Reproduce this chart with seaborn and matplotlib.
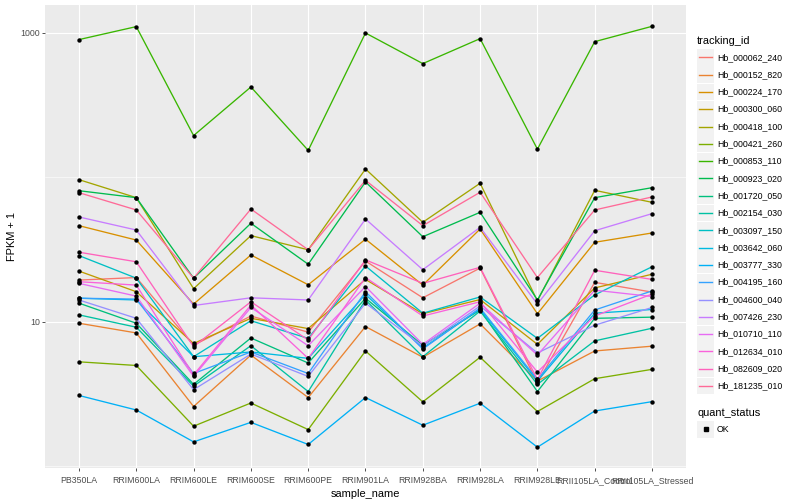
import numpy as np
import pandas as pd
import matplotlib
matplotlib.use("Agg")
import matplotlib.pyplot as plt
from matplotlib.lines import Line2D
from matplotlib.patches import Rectangle
import seaborn as sns

samples = ["PB350LA", "RRIM600LA", "RRIM600LE", "RRIM600SE", "RRIM600PE", "RRIM901LA",
           "RRIM928BA", "RRIM928LA", "RRIM928LE", "RRII105LA_Control", "RRII105LA_Stressed"]

tracking_ids = ["Hb_000062_240", "Hb_000152_820", "Hb_000224_170", "Hb_000300_060",
                "Hb_000418_100", "Hb_000421_260", "Hb_000853_110", "Hb_000923_020",
                "Hb_001720_050", "Hb_002154_030", "Hb_003097_150", "Hb_003642_060",
                "Hb_003777_330", "Hb_004195_160", "Hb_004600_040", "Hb_007426_230",
                "Hb_010710_110", "Hb_012634_010", "Hb_082609_020", "Hb_181235_010"]

# FPKM + 1 per sample
hb_000062_240 = [19.5, 20.3, 6.9, 11.0, 8.5, 26.4, 14.7, 23.6, 3.8, 18.8, 16.1]
hb_000152_820 = [9.8, 8.4, 2.6, 5.9, 3.0, 9.3, 5.7, 9.7, 3.9, 6.3, 6.8]
hb_000224_170 = [46.4, 36.9, 13.3, 29.1, 18.1, 37.4, 18.0, 44.0, 11.4, 35.6, 41.3]
hb_000300_060 = [22.5, 16.2, 7.1, 10.6, 9.0, 19.7, 11.4, 14.3, 7.0, 17.2, 21.4]
hb_000418_100 = [96.6, 72.5, 17.0, 39.6, 31.6, 114.5, 49.0, 91.2, 14.0, 81.5, 67.3]
hb_000421_260 = [5.3, 5.0, 1.9, 2.75, 1.8, 6.3, 2.8, 5.7, 2.4, 4.05, 4.7]
hb_000853_110 = [900, 1107, 195, 423, 154, 1000, 614, 914, 157, 871, 1112]
hb_000923_020 = [81.0, 72.5, 20.1, 48.2, 25.1, 93.1, 38.9, 57.4, 14.2, 72.5, 85.0]
hb_001720_050 = [13.5, 9.8, 3.7, 7.75, 5.2, 14.6, 6.9, 12.1, 3.3, 10.6, 10.8]
hb_002154_030 = [11.2, 9.2, 3.6, 6.85, 3.3, 14.2, 5.75, 11.9, 3.7, 7.4, 9.05]
hb_003097_150 = [28.8, 20.1, 5.75, 10.2, 7.7, 24.4, 11.5, 14.9, 7.7, 15.4, 24.1]
hb_003642_060 = [14.6, 14.2, 5.75, 6.2, 5.6, 15.5, 6.6, 12.3, 3.9, 11.5, 12.2]
hb_003777_330 = [3.1, 2.46, 1.48, 2.02, 1.42, 3.0, 1.93, 2.74, 1.36, 2.42, 2.81]
hb_004195_160 = [14.6, 14.4, 4.4, 6.2, 4.4, 16.2, 6.5, 12.5, 4.0, 12.1, 16.4]
hb_004600_040 = [14.2, 10.6, 3.4, 6.0, 4.2, 13.5, 6.8, 12.9, 6.1, 9.5, 12.6]
hb_007426_230 = [53.3, 43.3, 13.0, 14.7, 14.2, 51.6, 23.0, 45.2, 13.3, 42.8, 56.2]
hb_010710_110 = [18.5, 15.1, 4.2, 12.6, 6.85, 17.6, 7.0, 13.5, 5.9, 16.6, 15.0]
hb_012634_010 = [19.0, 18.0, 4.3, 13.1, 5.6, 20.3, 11.0, 13.8, 4.5, 11.0, 15.6]
hb_082609_020 = [30.4, 26.1, 6.75, 13.8, 7.5, 26.9, 18.5, 23.9, 4.0, 22.8, 19.7]
hb_181235_010 = [78.5, 59.6, 20.1, 60.5, 31.6, 95.6, 46.4, 79.0, 20.3, 59.6, 73.3]

series_values = [hb_000062_240, hb_000152_820, hb_000224_170, hb_000300_060, hb_000418_100,
                 hb_000421_260, hb_000853_110, hb_000923_020, hb_001720_050, hb_002154_030,
                 hb_003097_150, hb_003642_060, hb_003777_330, hb_004195_160, hb_004600_040,
                 hb_007426_230, hb_010710_110, hb_012634_010, hb_082609_020, hb_181235_010]

y_ticks = [10, 1000]
y_tick_labels = ["10", "1000"]


def hcl_hex(h, c=100.0, l=65.0):
    hr = np.deg2rad(h)
    u, v = c * np.cos(hr), c * np.sin(hr)
    Y = ((l + 16) / 116) ** 3 if l > 8 else l / 903.3
    Xn, Yn, Zn = 0.95047, 1.0, 1.08883
    un = 4 * Xn / (Xn + 15 * Yn + 3 * Zn)
    vn = 9 * Yn / (Xn + 15 * Yn + 3 * Zn)
    up = u / (13 * l) + un
    vp = v / (13 * l) + vn
    X = Y * 9 * up / (4 * vp)
    Z = Y * (12 - 3 * up - 20 * vp) / (4 * vp)
    M = np.array([[3.2404542, -1.5371385, -0.4985314],
                  [-0.9692660, 1.8760108, 0.0415560],
                  [0.0556434, -0.2040259, 1.0572252]])
    rgb = M @ np.array([X, Y, Z])
    out = []
    for ch in rgb:
        ch = 12.92 * ch if ch <= 0.0031308 else 1.055 * ch ** (1 / 2.4) - 0.055
        out.append(min(max(ch, 0), 1))
    return matplotlib.colors.to_hex(out)


n = len(tracking_ids)
hues = np.linspace(15, 375, n + 1)[:n]
palette = [hcl_hex(h) for h in hues]

rows = []
for tid, vals in zip(tracking_ids, series_values):
    for s, v in zip(samples, vals):
        rows.append({"tracking_id": tid, "sample_name": s, "FPKM": v, "quant_status": "OK"})
df = pd.DataFrame(rows)

plt.rcParams["font.family"] = ["Liberation Sans", "DejaVu Sans"]
fig = plt.figure(figsize=(8, 5), dpi=100)
ax = fig.add_axes([44.6 / 800, 1 - 468 / 500, (686.4 - 44.6) / 800, (468 - 5) / 500])
ax.set_facecolor("#EBEBEB")

sns.lineplot(data=df, x="sample_name", y="FPKM", hue="tracking_id", hue_order=tracking_ids,
             palette=palette, sort=False, estimator=None, units="tracking_id",
             linewidth=0.95, legend=False, ax=ax, zorder=3)
sns.scatterplot(data=df, x="sample_name", y="FPKM", color="black", s=10, linewidth=0,
                legend=False, ax=ax, zorder=4)

ax.set_yscale("log")
ax.set_ylim(0.976, 1562)
ax.set_xlim(-0.6, len(samples) - 0.4)
ax.set_yticks(y_ticks)
ax.set_yticklabels(y_tick_labels)
ax.yaxis.set_minor_locator(matplotlib.ticker.FixedLocator([1, 100]))
ax.yaxis.set_minor_formatter(matplotlib.ticker.NullFormatter())
ax.set_xticks(range(len(samples)))
ax.set_xticklabels(samples)

ax.grid(True, which="major", color="white", linewidth=0.8)
ax.grid(True, which="minor", axis="y", color="white", linewidth=0.4)
ax.set_axisbelow(True)
for sp in ax.spines.values():
    sp.set_visible(False)
ax.tick_params(which="major", length=2.0, width=0.6, color="#333333",
               labelsize=6.3, labelcolor="#4D4D4D")
ax.tick_params(axis="x", which="major", pad=4.0)
ax.tick_params(axis="y", which="major", pad=1.5)
ax.tick_params(which="minor", length=0)
ax.set_xlabel("sample_name", fontsize=7.9, color="black", labelpad=2.5)
ax.set_ylabel("FPKM + 1", fontsize=7.9, color="black", labelpad=2.5)

# legends (ggplot-style) drawn in figure pixel coordinates
def px(x, y):
    return x / 800, 1 - y / 500

fig.text(*px(697, 40.5), "tracking_id", fontsize=7.9, va="center", ha="left")
for i, (tid, col) in enumerate(zip(tracking_ids, palette)):
    yc = 57.3 + i * 17.3
    fig.patches.append(Rectangle(px(697, yc + 8.4), 17 / 800, 16.8 / 500,
                                 transform=fig.transFigure, facecolor="#F2F2F2",
                                 edgecolor="none"))
    fig.lines.append(Line2D([698.5 / 800, 711.5 / 800], [px(0, yc)[1]] * 2,
                            transform=fig.transFigure, color=col, linewidth=1.0))
    fig.text(*px(717, yc), tid, fontsize=6.3, va="center", ha="left", color="black")

fig.text(*px(697, 412.5), "quant_status", fontsize=7.9, va="center", ha="left")
fig.patches.append(Rectangle(px(697, 429.3 + 8.4), 17 / 800, 16.8 / 500,
                             transform=fig.transFigure, facecolor="#F2F2F2", edgecolor="none"))
fig.lines.append(Line2D([705.5 / 800], [px(0, 429.3)[1]], transform=fig.transFigure,
                        marker="s", markersize=2.6, color="black", linestyle="none"))
fig.text(*px(717, 429.3), "OK", fontsize=6.3, va="center", ha="left")

fig.savefig("out.png", dpi=100)
